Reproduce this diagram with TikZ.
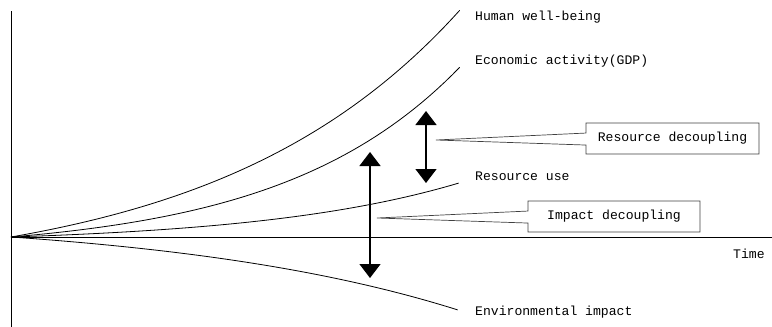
\documentclass[tikz,border=0pt]{standalone}
\usepackage{fontspec}
\setmainfont{Liberation Mono}
\usetikzlibrary{arrows.meta,shapes.callouts}
\begin{document}
\begin{tikzpicture}[x=1pt,y=-1pt,
  lbl/.style={anchor=west,inner sep=0pt,font=\fontsize{13.1}{15}\selectfont},
  curve/.style={line width=0.8pt},
  axis/.style={line width=1pt},
  callbox/.style={rectangle callout,draw=black!75,line width=0.7pt,fill=white,
    minimum height=31pt,inner sep=0pt,callout pointer width=12pt,
    font=\fontsize{13.1}{15}\selectfont},
  dbl/.style={line width=1.3pt,{Triangle[width=21pt,length=14pt]}-{Triangle[width=21pt,length=14pt]}}
]
\useasboundingbox (0,0) rectangle (772,327);
% axes
\coordinate (o) at (11,237);
\coordinate (ytop) at (11,11);
\coordinate (ybot) at (11,327);
\coordinate (xend) at (772,237);
\draw[axis] (ytop) -- (ybot);
\draw[axis] (o) -- (xend);
\node[lbl] (time) at (733,254) {Time};
% curves
\draw[curve] plot[domain=0:1,samples=60] ({11+449*\x},{237-227*(exp(1.85*\x)-1)/(exp(1.85)-1)});
\draw[curve] plot[domain=0:1,samples=60] ({11+449*\x},{237-170*(exp(2.5*\x)-1)/(exp(2.5)-1)});
\draw[curve] plot[domain=0:1,samples=60] ({11+448*\x},{237-54*(exp(2.2*\x)-1)/(exp(2.2)-1)});
\draw[curve] plot[domain=0:1,samples=60] ({11+447*\x},{237+73*(exp(1.5*\x)-1)/(exp(1.5)-1)});
% labels
\node[lbl] (hw) at (475,17) {Human well-being};
\node[lbl] (ea) at (475,61) {Economic activity(GDP)};
\node[lbl] (ru) at (475,176) {Resource use};
\node[lbl] (ei) at (475,312) {Environmental impact};
% arrows
\coordinate (ra1) at (426,111);
\coordinate (ra2) at (426,183);
\draw[dbl] (ra1) -- (ra2);
\coordinate (ia1) at (370,152);
\coordinate (ia2) at (370,278);
\draw[dbl] (ia1) -- (ia2);
% callouts
\coordinate (rtip) at (436,140);
\coordinate (itip) at (377,218);
\node[callbox,minimum width=173pt,callout absolute pointer={(rtip)}] (rd) at (672.5,138.5) {Resource decoupling};
\node[callbox,minimum width=172pt,callout absolute pointer={(itip)}] (id) at (614,216.5) {Impact decoupling};
\end{tikzpicture}
\end{document}
